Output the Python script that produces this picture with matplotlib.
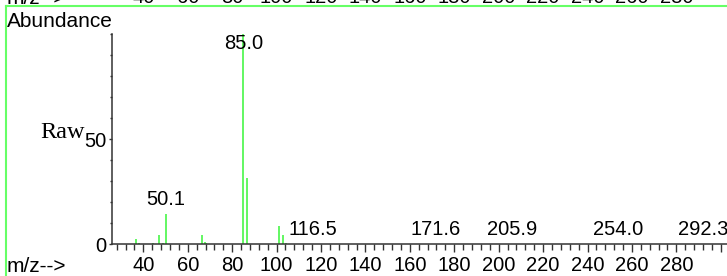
import matplotlib
matplotlib.use("Agg")
import matplotlib.pyplot as plt
from matplotlib.lines import Line2D
from matplotlib.ticker import MultipleLocator, FixedLocator
import numpy as np

# spectrum data (m/z, relative abundance)
mz = [36.8, 38.2, 41.2, 44.2, 47.2, 49.0, 50.1, 52.4, 54.7, 66.2, 67.7, 68.4,
      82.6, 85.0, 86.9, 101.1, 102.9, 104.4, 116.5, 122.3, 171.6, 205.9,
      212.0, 254.0, 269.6, 292.3]
abundance = [2.6, 0.4, 0.3, 0.7, 4.3, 0.6, 14.5, 0.3, 0.3, 4.3, 1.0, 0.4,
             0.3, 100.0, 31.4, 8.6, 4.3, 0.8, 0.3, 0.3, 0.3, 0.3,
             0.3, 0.3, 0.3, 0.3]

label_mz = [85.0, 50.1, 116.5, 171.6, 205.9, 254.0, 292.3]
x_ticks = [40, 60, 80, 100, 120, 140, 160, 180, 200, 220, 240, 260, 280, 300]
x_labels = ["40", "60", "80", "100", "120", "140", "160", "180", "200",
            "220", "240", "260", "280", ""]

peak_green = "#38f538"
frame_green = "#66ff66"

plt.rcParams['font.family'] = ['Liberation Sans', 'DejaVu Sans']

W, H = 727, 276
fig = plt.figure(figsize=(W / 100, H / 100), dpi=100)

x0, y_base, y_top = 112, 244.3, 34
ax = fig.add_axes([x0 / W, (H - y_base) / H, (W - x0) / W, (y_base - y_top) / H])
ax.set_xlim(25.9, 302.8)
ax.set_ylim(0, 100)

ax.vlines(mz, 0, abundance, color=peak_green, linewidth=1.1)

ht = dict(zip(mz, abundance))
for m in label_mz:
    h = ht.get(m, 0.3)
    ax.annotate(f"{m:.1f}", (m, min(h, 89)), xytext=(0, 3.2),
                textcoords="offset points", ha="center", va="bottom",
                fontsize=14.5, clip_on=False)

for s in ["top", "right"]:
    ax.spines[s].set_visible(False)
for s in ["left", "bottom"]:
    ax.spines[s].set_color("#333333")
    ax.spines[s].set_linewidth(1.1)

ax.xaxis.set_major_locator(FixedLocator(x_ticks))
ax.set_xticklabels(x_labels)
ax.xaxis.set_minor_locator(MultipleLocator(4))
ax.tick_params(axis="x", which="major", length=5.8, width=1.0, color="#333333",
               labelsize=14.5, pad=2.5)
ax.tick_params(axis="x", which="minor", length=4.3, width=1.0, color="#333333")

ax.yaxis.set_major_locator(FixedLocator([0, 50]))
ax.yaxis.set_minor_locator(MultipleLocator(10))
ax.tick_params(axis="y", which="major", length=2, width=1.0, color="#333333",
               labelsize=14.5, pad=2)
ax.tick_params(axis="y", which="minor", length=1.5, width=1.0, color="#333333")

# courier-like label; use a thin serif face since no courier is installed
ax.set_ylabel("Raw", rotation=0, ha="left", va="baseline",
              fontfamily="Liberation Serif", fontsize=17.5)
ax.yaxis.set_label_coords((40 - x0) / (W - x0), (y_base - 138) / (y_base - y_top))

# axis of the panel above, mostly cut off by the image edge
ax_up = fig.add_axes([x0 / W, (H + 23.7) / H, (W - x0) / W, 0.5])
ax_up.set_xlim(ax.get_xlim())
ax_up.xaxis.set_major_locator(FixedLocator(x_ticks))
ax_up.set_xticklabels(x_labels)
ax_up.tick_params(axis="x", length=5.8, labelsize=14.5, pad=2.5)
ax_up.set_yticks([])
for s in ax_up.spines.values():
    s.set_visible(False)

fig.text(6.7 / W, (H - 26.7) / H, "Abundance", fontsize=15, va="baseline")
fig.text(6.7 / W, (H - 272) / H, "m/z-->", fontsize=15, va="baseline")
fig.text(6.7 / W, (H - 4) / H, "m/z-->", fontsize=15, va="baseline")

# green selection frame
fig.add_artist(Line2D([6 / W, 1], [(H - 6) / H] * 2, color=frame_green, linewidth=1.5))
fig.add_artist(Line2D([6 / W] * 2, [0, (H - 6) / H], color=frame_green, linewidth=1.5))

fig.savefig("out.png", dpi=100)
